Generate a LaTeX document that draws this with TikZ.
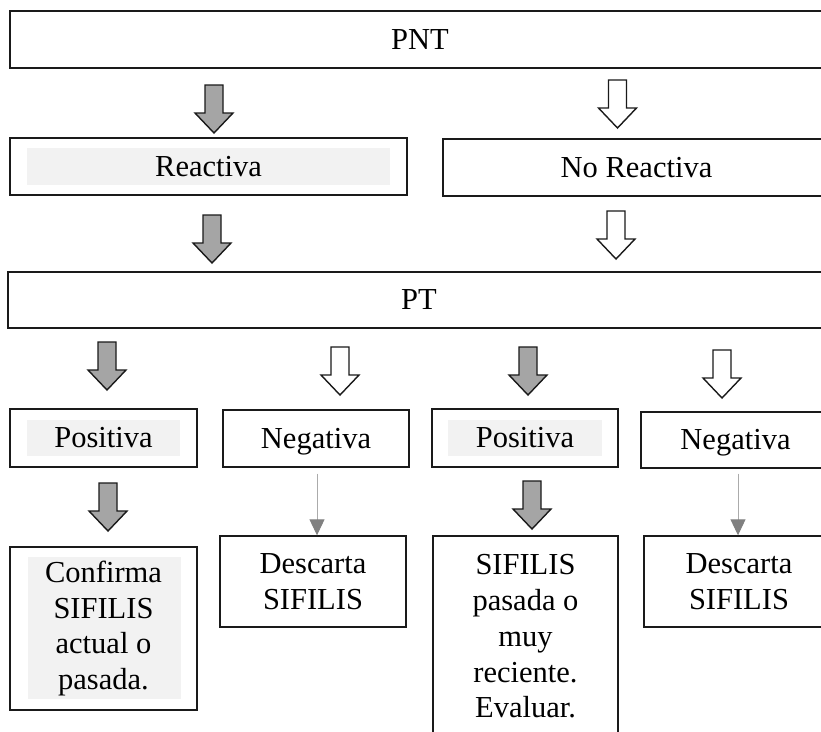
\documentclass[tikz,border=0pt]{standalone}
\usepackage{fontspec}
\setmainfont{Liberation Serif}
\usetikzlibrary{arrows.meta}
\definecolor{hl}{HTML}{F2F2F2}
\definecolor{agray}{HTML}{A5A5A5}
\definecolor{lgray}{HTML}{ABABAB}
\definecolor{tgray}{HTML}{808080}
\definecolor{edge}{HTML}{1A1A1A}
\begin{document}
\begin{tikzpicture}[x=1pt,y=-1pt,
  box/.style={draw=edge, line width=1.4pt, inner sep=0pt, align=center,
    font=\fontsize{30.5}{35.7}\selectfont},
  onebox/.style={box, text height=22pt, text depth=3pt},
  blk/.style={draw=edge, line width=1.4pt, line join=miter},
  thinarr/.style={draw=lgray, line width=1pt, -{Triangle[length=16pt,width=15pt,color=tgray]}},
  blockarrow/.pic={\path[blk,pic actions] (-9,0) -- (9,0) -- (9,28) -- (19,28) -- (0,48) -- (-19,28) -- (-9,28) -- cycle;}
]
\clip (0,0) rectangle (821,731);
\fill[white] (0,0) rectangle (821,731);

% highlight backgrounds
\fill[hl] (27,148) rectangle (390,185);
\fill[hl] (27,420) rectangle (180,456);
\fill[hl] (448,420) rectangle (602,456);
\fill[hl] (28,557) rectangle (181,699);

% boxes
\node[onebox, minimum width=820pt, minimum height=57pt] (pnt) at (420,39.5) {PNT};
\node[onebox, minimum width=397pt, minimum height=57pt] (reac) at (208.5,166.5) {Reactiva};
\node[onebox, minimum width=387pt, minimum height=57pt] (noreac) at (636.5,167.5) {No Reactiva};
\node[onebox, minimum width=822pt, minimum height=56pt] (pt) at (419,300) {PT};
\node[onebox, minimum width=187pt, minimum height=58pt] (pos1) at (103.5,438) {Positiva};
\node[onebox, minimum width=186pt, minimum height=57pt] (neg1) at (316,438.5) {Negativa};
\node[onebox, minimum width=186pt, minimum height=58pt] (pos2) at (525,438) {Positiva};
\node[onebox, minimum width=189pt, minimum height=56pt] (neg2) at (735.5,440) {Negativa};
\node[box, minimum width=187pt, minimum height=163pt] (conf) at (103.5,628.5) {Confirma\\SIFILIS\\actual o\\pasada.};
\node[box, minimum width=186pt, minimum height=91pt] (desc1) at (313,581.5) {Descarta\\SIFILIS};
\node[box, minimum width=185pt, minimum height=201pt] (sif) at (525.5,636.5) {SIFILIS\\pasada o\\muy\\reciente.\\Evaluar.};
\node[box, minimum width=190pt, minimum height=91pt] (desc2) at (739,581.5) {Descarta\\SIFILIS};

% block arrows
\pic[fill=agray] at (214,85) {blockarrow};
\pic[fill=white] at (617.5,80) {blockarrow};
\pic[fill=agray] at (212,215) {blockarrow};
\pic[fill=white] at (616,211) {blockarrow};
\pic[fill=agray] at (107,342) {blockarrow};
\pic[fill=white] at (340,347) {blockarrow};
\pic[fill=agray] at (528,347) {blockarrow};
\pic[fill=white] at (722,350) {blockarrow};
\pic[fill=agray] at (108,483) {blockarrow};
\pic[fill=agray] at (532,481) {blockarrow};

% thin arrows
\draw[thinarr] ([xshift=1pt,yshift=-6pt]neg1.south) -- ([xshift=4pt]desc1.north);
\draw[thinarr] ([xshift=2.5pt,yshift=-5pt]neg2.south) -- ([xshift=-1pt]desc2.north);
\end{tikzpicture}
\end{document}
